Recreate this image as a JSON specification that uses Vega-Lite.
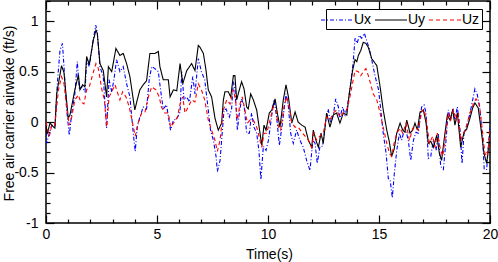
{
  "$schema": "https://vega.github.io/schema/vega-lite/v6.json",
  "width": 444,
  "height": 222,
  "autosize": "none",
  "padding": {"left": 46, "top": 1, "right": 8, "bottom": 39},
  "config": {
    "font": "Liberation Sans",
    "view": {"stroke": "black", "strokeWidth": 1.5},
    "axis": {"domain": false, "grid": false, "tickColor": "black", "tickWidth": 1.2, "labelColor": "black", "titleColor": "black", "labelFontSize": 14, "titleFontSize": 14, "titleFontWeight": "normal", "labelFont": "Liberation Sans", "titleFont": "Liberation Sans"}
  },
  "data": {"values": [
    {"s":"Ux","t":0,"v":-0.1},{"s":"Ux","t":0.03,"v":-0.21},{"s":"Ux","t":0.15,"v":-0.11},{"s":"Ux","t":0.26,"v":-0.03},{"s":"Ux","t":0.4,"v":-0.06},{"s":"Ux","t":0.51,"v":0.38},{"s":"Ux","t":0.63,"v":0.71},{"s":"Ux","t":0.74,"v":0.78},{"s":"Ux","t":0.81,"v":0.55},{"s":"Ux","t":0.93,"v":0.12},{"s":"Ux","t":1.05,"v":-0.13},{"s":"Ux","t":1.16,"v":0.09},{"s":"Ux","t":1.3,"v":0.28},{"s":"Ux","t":1.41,"v":0.6},{"s":"Ux","t":1.5,"v":0.32},{"s":"Ux","t":1.62,"v":0.35},{"s":"Ux","t":1.76,"v":0.3},{"s":"Ux","t":1.83,"v":0.62},{"s":"Ux","t":1.95,"v":0.55},{"s":"Ux","t":2.1,"v":0.78},{"s":"Ux","t":2.24,"v":0.96},{"s":"Ux","t":2.31,"v":0.89},{"s":"Ux","t":2.43,"v":0.55},{"s":"Ux","t":2.58,"v":0.45},{"s":"Ux","t":2.73,"v":-0.06},{"s":"Ux","t":2.84,"v":0.42},{"s":"Ux","t":2.96,"v":0.3},{"s":"Ux","t":3.06,"v":0.42},{"s":"Ux","t":3.18,"v":0.62},{"s":"Ux","t":3.33,"v":0.5},{"s":"Ux","t":3.48,"v":0.55},{"s":"Ux","t":3.63,"v":0.38},{"s":"Ux","t":3.78,"v":0.25},{"s":"Ux","t":3.93,"v":-0.11},{"s":"Ux","t":4.02,"v":-0.29},{"s":"Ux","t":4.11,"v":-0.05},{"s":"Ux","t":4.23,"v":0.05},{"s":"Ux","t":4.38,"v":0.15},{"s":"Ux","t":4.53,"v":0.13},{"s":"Ux","t":4.65,"v":0.42},{"s":"Ux","t":4.76,"v":0.55},{"s":"Ux","t":4.91,"v":0.53},{"s":"Ux","t":5.06,"v":0.5},{"s":"Ux","t":5.16,"v":0.32},{"s":"Ux","t":5.28,"v":0.13},{"s":"Ux","t":5.43,"v":0.17},{"s":"Ux","t":5.61,"v":-0.08},{"s":"Ux","t":5.74,"v":0.02},{"s":"Ux","t":5.89,"v":0.03},{"s":"Ux","t":6.04,"v":0.1},{"s":"Ux","t":6.11,"v":0.5},{"s":"Ux","t":6.22,"v":0.22},{"s":"Ux","t":6.34,"v":0.25},{"s":"Ux","t":6.46,"v":0.2},{"s":"Ux","t":6.61,"v":0.45},{"s":"Ux","t":6.71,"v":0.28},{"s":"Ux","t":6.86,"v":0.63},{"s":"Ux","t":7.0,"v":0.5},{"s":"Ux","t":7.15,"v":0.42},{"s":"Ux","t":7.31,"v":0.12},{"s":"Ux","t":7.41,"v":-0.08},{"s":"Ux","t":7.54,"v":-0.18},{"s":"Ux","t":7.66,"v":-0.34},{"s":"Ux","t":7.72,"v":-0.49},{"s":"Ux","t":7.84,"v":-0.38},{"s":"Ux","t":7.91,"v":-0.18},{"s":"Ux","t":8.02,"v":0.12},{"s":"Ux","t":8.11,"v":0.13},{"s":"Ux","t":8.26,"v":0.05},{"s":"Ux","t":8.36,"v":0.13},{"s":"Ux","t":8.44,"v":0.4},{"s":"Ux","t":8.51,"v":0.33},{"s":"Ux","t":8.62,"v":-0.08},{"s":"Ux","t":8.71,"v":0.09},{"s":"Ux","t":8.81,"v":0.23},{"s":"Ux","t":8.93,"v":0.15},{"s":"Ux","t":9.04,"v":-0.11},{"s":"Ux","t":9.16,"v":-0.11},{"s":"Ux","t":9.26,"v":0.09},{"s":"Ux","t":9.37,"v":-0.05},{"s":"Ux","t":9.49,"v":-0.11},{"s":"Ux","t":9.59,"v":-0.28},{"s":"Ux","t":9.68,"v":-0.57},{"s":"Ux","t":9.79,"v":-0.24},{"s":"Ux","t":9.91,"v":-0.28},{"s":"Ux","t":10.02,"v":-0.18},{"s":"Ux","t":10.17,"v":0.07},{"s":"Ux","t":10.27,"v":0.22},{"s":"Ux","t":10.39,"v":0.05},{"s":"Ux","t":10.51,"v":-0.23},{"s":"Ux","t":10.62,"v":-0.06},{"s":"Ux","t":10.74,"v":0.15},{"s":"Ux","t":10.81,"v":0.28},{"s":"Ux","t":10.92,"v":0.15},{"s":"Ux","t":11.02,"v":-0.11},{"s":"Ux","t":11.14,"v":-0.21},{"s":"Ux","t":11.29,"v":-0.08},{"s":"Ux","t":11.44,"v":-0.18},{"s":"Ux","t":11.59,"v":-0.25},{"s":"Ux","t":11.74,"v":-0.38},{"s":"Ux","t":11.89,"v":-0.48},{"s":"Ux","t":12.02,"v":-0.18},{"s":"Ux","t":12.12,"v":-0.21},{"s":"Ux","t":12.22,"v":-0.41},{"s":"Ux","t":12.34,"v":-0.24},{"s":"Ux","t":12.46,"v":-0.24},{"s":"Ux","t":12.61,"v":0.02},{"s":"Ux","t":12.71,"v":0.13},{"s":"Ux","t":12.82,"v":-0.01},{"s":"Ux","t":12.94,"v":0.07},{"s":"Ux","t":13.05,"v":0.23},{"s":"Ux","t":13.17,"v":0.15},{"s":"Ux","t":13.24,"v":0.04},{"s":"Ux","t":13.36,"v":0.15},{"s":"Ux","t":13.47,"v":0.07},{"s":"Ux","t":13.57,"v":0.15},{"s":"Ux","t":13.69,"v":0.32},{"s":"Ux","t":13.84,"v":0.6},{"s":"Ux","t":13.92,"v":0.83},{"s":"Ux","t":14.02,"v":0.78},{"s":"Ux","t":14.11,"v":0.86},{"s":"Ux","t":14.22,"v":0.83},{"s":"Ux","t":14.34,"v":0.88},{"s":"Ux","t":14.44,"v":0.81},{"s":"Ux","t":14.56,"v":0.73},{"s":"Ux","t":14.67,"v":0.62},{"s":"Ux","t":14.82,"v":0.46},{"s":"Ux","t":14.98,"v":0.32},{"s":"Ux","t":15.08,"v":0.12},{"s":"Ux","t":15.19,"v":-0.11},{"s":"Ux","t":15.32,"v":-0.31},{"s":"Ux","t":15.42,"v":-0.56},{"s":"Ux","t":15.5,"v":-0.57},{"s":"Ux","t":15.6,"v":-0.75},{"s":"Ux","t":15.69,"v":-0.51},{"s":"Ux","t":15.8,"v":-0.28},{"s":"Ux","t":15.92,"v":-0.11},{"s":"Ux","t":16.02,"v":-0.18},{"s":"Ux","t":16.17,"v":-0.05},{"s":"Ux","t":16.32,"v":-0.18},{"s":"Ux","t":16.43,"v":-0.38},{"s":"Ux","t":16.55,"v":-0.18},{"s":"Ux","t":16.67,"v":-0.1},{"s":"Ux","t":16.77,"v":-0.11},{"s":"Ux","t":16.92,"v":0.15},{"s":"Ux","t":17.03,"v":0.17},{"s":"Ux","t":17.12,"v":0.09},{"s":"Ux","t":17.22,"v":-0.36},{"s":"Ux","t":17.33,"v":-0.34},{"s":"Ux","t":17.45,"v":-0.18},{"s":"Ux","t":17.57,"v":-0.28},{"s":"Ux","t":17.67,"v":-0.11},{"s":"Ux","t":17.78,"v":-0.44},{"s":"Ux","t":17.9,"v":-0.47},{"s":"Ux","t":18.02,"v":-0.18},{"s":"Ux","t":18.12,"v":0.12},{"s":"Ux","t":18.23,"v":0.02},{"s":"Ux","t":18.32,"v":0.13},{"s":"Ux","t":18.42,"v":0.03},{"s":"Ux","t":18.53,"v":0.15},{"s":"Ux","t":18.65,"v":-0.08},{"s":"Ux","t":18.74,"v":-0.41},{"s":"Ux","t":18.83,"v":-0.11},{"s":"Ux","t":18.95,"v":-0.05},{"s":"Ux","t":19.1,"v":0.09},{"s":"Ux","t":19.22,"v":0.22},{"s":"Ux","t":19.32,"v":0.33},{"s":"Ux","t":19.43,"v":0.27},{"s":"Ux","t":19.55,"v":0.12},{"s":"Ux","t":19.67,"v":-0.18},{"s":"Ux","t":19.74,"v":-0.47},{"s":"Ux","t":19.85,"v":-0.47},{"s":"Ux","t":19.97,"v":-0.11},{"s":"Ux","t":20,"v":-0.05},
    {"s":"Uy","t":0,"v":-0.02},{"s":"Uy","t":0.05,"v":-0.12},{"s":"Uy","t":0.18,"v":-0.01},{"s":"Uy","t":0.3,"v":-0.04},{"s":"Uy","t":0.4,"v":-0.06},{"s":"Uy","t":0.48,"v":0.28},{"s":"Uy","t":0.7,"v":0.56},{"s":"Uy","t":0.81,"v":0.49},{"s":"Uy","t":1.0,"v":0.04},{"s":"Uy","t":1.08,"v":0.07},{"s":"Uy","t":1.3,"v":0.32},{"s":"Uy","t":1.46,"v":0.47},{"s":"Uy","t":1.53,"v":0.32},{"s":"Uy","t":1.65,"v":0.37},{"s":"Uy","t":1.75,"v":0.35},{"s":"Uy","t":1.83,"v":0.65},{"s":"Uy","t":1.95,"v":0.57},{"s":"Uy","t":2.13,"v":0.81},{"s":"Uy","t":2.25,"v":0.91},{"s":"Uy","t":2.31,"v":0.88},{"s":"Uy","t":2.43,"v":0.58},{"s":"Uy","t":2.58,"v":0.51},{"s":"Uy","t":2.73,"v":0.25},{"s":"Uy","t":2.81,"v":0.55},{"s":"Uy","t":2.96,"v":0.5},{"s":"Uy","t":3.15,"v":0.73},{"s":"Uy","t":3.33,"v":0.66},{"s":"Uy","t":3.48,"v":0.68},{"s":"Uy","t":3.63,"v":0.58},{"s":"Uy","t":3.78,"v":0.45},{"s":"Uy","t":4.0,"v":0.12},{"s":"Uy","t":4.11,"v":0.22},{"s":"Uy","t":4.23,"v":0.32},{"s":"Uy","t":4.38,"v":0.37},{"s":"Uy","t":4.53,"v":0.41},{"s":"Uy","t":4.68,"v":0.68},{"s":"Uy","t":4.91,"v":0.68},{"s":"Uy","t":5.06,"v":0.7},{"s":"Uy","t":5.13,"v":0.55},{"s":"Uy","t":5.28,"v":0.42},{"s":"Uy","t":5.51,"v":0.42},{"s":"Uy","t":5.59,"v":0.25},{"s":"Uy","t":5.74,"v":0.32},{"s":"Uy","t":5.89,"v":0.31},{"s":"Uy","t":6.04,"v":0.58},{"s":"Uy","t":6.16,"v":0.38},{"s":"Uy","t":6.34,"v":0.51},{"s":"Uy","t":6.56,"v":0.58},{"s":"Uy","t":6.71,"v":0.51},{"s":"Uy","t":6.86,"v":0.76},{"s":"Uy","t":6.94,"v":0.74},{"s":"Uy","t":7.09,"v":0.68},{"s":"Uy","t":7.21,"v":0.51},{"s":"Uy","t":7.31,"v":0.32},{"s":"Uy","t":7.46,"v":0.25},{"s":"Uy","t":7.61,"v":0.04},{"s":"Uy","t":7.76,"v":-0.08},{"s":"Uy","t":7.91,"v":-0.01},{"s":"Uy","t":7.99,"v":0.22},{"s":"Uy","t":8.06,"v":0.3},{"s":"Uy","t":8.21,"v":0.3},{"s":"Uy","t":8.32,"v":0.25},{"s":"Uy","t":8.44,"v":0.46},{"s":"Uy","t":8.51,"v":0.46},{"s":"Uy","t":8.59,"v":0.22},{"s":"Uy","t":8.66,"v":0.28},{"s":"Uy","t":8.81,"v":0.4},{"s":"Uy","t":8.92,"v":0.33},{"s":"Uy","t":9.04,"v":0.15},{"s":"Uy","t":9.11,"v":0.13},{"s":"Uy","t":9.22,"v":0.28},{"s":"Uy","t":9.34,"v":0.22},{"s":"Uy","t":9.49,"v":0.12},{"s":"Uy","t":9.64,"v":-0.11},{"s":"Uy","t":9.72,"v":-0.23},{"s":"Uy","t":9.82,"v":-0.03},{"s":"Uy","t":9.91,"v":-0.08},{"s":"Uy","t":10.06,"v":0.09},{"s":"Uy","t":10.17,"v":0.12},{"s":"Uy","t":10.32,"v":0.23},{"s":"Uy","t":10.42,"v":0.09},{"s":"Uy","t":10.54,"v":-0.05},{"s":"Uy","t":10.69,"v":0.22},{"s":"Uy","t":10.81,"v":0.37},{"s":"Uy","t":10.92,"v":0.25},{"s":"Uy","t":11.07,"v":-0.01},{"s":"Uy","t":11.22,"v":0.1},{"s":"Uy","t":11.36,"v":0.0},{"s":"Uy","t":11.52,"v":-0.03},{"s":"Uy","t":11.67,"v":-0.05},{"s":"Uy","t":11.82,"v":-0.18},{"s":"Uy","t":11.97,"v":-0.25},{"s":"Uy","t":12.04,"v":-0.08},{"s":"Uy","t":12.16,"v":-0.18},{"s":"Uy","t":12.27,"v":-0.25},{"s":"Uy","t":12.39,"v":-0.11},{"s":"Uy","t":12.49,"v":-0.21},{"s":"Uy","t":12.64,"v":0.09},{"s":"Uy","t":12.79,"v":-0.05},{"s":"Uy","t":12.94,"v":0.07},{"s":"Uy","t":13.09,"v":0.09},{"s":"Uy","t":13.24,"v":-0.01},{"s":"Uy","t":13.39,"v":0.09},{"s":"Uy","t":13.55,"v":0.07},{"s":"Uy","t":13.66,"v":0.28},{"s":"Uy","t":13.81,"v":0.51},{"s":"Uy","t":13.92,"v":0.62},{"s":"Uy","t":14.0,"v":0.6},{"s":"Uy","t":14.07,"v":0.66},{"s":"Uy","t":14.18,"v":0.71},{"s":"Uy","t":14.29,"v":0.79},{"s":"Uy","t":14.41,"v":0.78},{"s":"Uy","t":14.52,"v":0.74},{"s":"Uy","t":14.67,"v":0.63},{"s":"Uy","t":14.9,"v":0.56},{"s":"Uy","t":15.05,"v":0.35},{"s":"Uy","t":15.19,"v":0.12},{"s":"Uy","t":15.35,"v":-0.08},{"s":"Uy","t":15.46,"v":-0.19},{"s":"Uy","t":15.57,"v":-0.34},{"s":"Uy","t":15.68,"v":-0.27},{"s":"Uy","t":15.8,"v":-0.11},{"s":"Uy","t":15.95,"v":-0.01},{"s":"Uy","t":16.07,"v":-0.08},{"s":"Uy","t":16.17,"v":-0.1},{"s":"Uy","t":16.25,"v":0.02},{"s":"Uy","t":16.4,"v":-0.11},{"s":"Uy","t":16.52,"v":-0.08},{"s":"Uy","t":16.62,"v":-0.01},{"s":"Uy","t":16.73,"v":-0.08},{"s":"Uy","t":16.85,"v":0.1},{"s":"Uy","t":17.0,"v":0.12},{"s":"Uy","t":17.12,"v":-0.01},{"s":"Uy","t":17.22,"v":-0.21},{"s":"Uy","t":17.33,"v":-0.19},{"s":"Uy","t":17.45,"v":-0.25},{"s":"Uy","t":17.6,"v":-0.13},{"s":"Uy","t":17.72,"v":-0.31},{"s":"Uy","t":17.82,"v":-0.38},{"s":"Uy","t":17.93,"v":-0.18},{"s":"Uy","t":18.08,"v":0.07},{"s":"Uy","t":18.2,"v":0.02},{"s":"Uy","t":18.32,"v":0.12},{"s":"Uy","t":18.42,"v":-0.03},{"s":"Uy","t":18.53,"v":0.09},{"s":"Uy","t":18.68,"v":-0.25},{"s":"Uy","t":18.83,"v":-0.1},{"s":"Uy","t":18.95,"v":-0.07},{"s":"Uy","t":19.1,"v":0.04},{"s":"Uy","t":19.22,"v":0.14},{"s":"Uy","t":19.32,"v":0.19},{"s":"Uy","t":19.47,"v":0.14},{"s":"Uy","t":19.62,"v":-0.11},{"s":"Uy","t":19.73,"v":-0.31},{"s":"Uy","t":19.85,"v":-0.41},{"s":"Uy","t":19.97,"v":-0.18},{"s":"Uy","t":20,"v":-0.12},
    {"s":"Uz","t":0,"v":0.0},{"s":"Uz","t":0.15,"v":-0.14},{"s":"Uz","t":0.26,"v":-0.03},{"s":"Uz","t":0.4,"v":-0.03},{"s":"Uz","t":0.56,"v":0.32},{"s":"Uz","t":0.7,"v":0.45},{"s":"Uz","t":0.81,"v":0.38},{"s":"Uz","t":0.93,"v":0.15},{"s":"Uz","t":1.05,"v":-0.03},{"s":"Uz","t":1.16,"v":0.05},{"s":"Uz","t":1.3,"v":0.22},{"s":"Uz","t":1.46,"v":0.27},{"s":"Uz","t":1.56,"v":0.2},{"s":"Uz","t":1.71,"v":0.18},{"s":"Uz","t":1.83,"v":0.32},{"s":"Uz","t":1.95,"v":0.35},{"s":"Uz","t":2.1,"v":0.47},{"s":"Uz","t":2.25,"v":0.58},{"s":"Uz","t":2.36,"v":0.53},{"s":"Uz","t":2.51,"v":0.33},{"s":"Uz","t":2.63,"v":0.22},{"s":"Uz","t":2.73,"v":-0.05},{"s":"Uz","t":2.84,"v":0.25},{"s":"Uz","t":2.96,"v":0.3},{"s":"Uz","t":3.11,"v":0.37},{"s":"Uz","t":3.21,"v":0.3},{"s":"Uz","t":3.33,"v":0.22},{"s":"Uz","t":3.45,"v":0.3},{"s":"Uz","t":3.6,"v":0.25},{"s":"Uz","t":3.75,"v":0.15},{"s":"Uz","t":3.9,"v":-0.01},{"s":"Uz","t":4.02,"v":-0.14},{"s":"Uz","t":4.16,"v":0.0},{"s":"Uz","t":4.31,"v":0.09},{"s":"Uz","t":4.46,"v":0.1},{"s":"Uz","t":4.61,"v":0.25},{"s":"Uz","t":4.76,"v":0.35},{"s":"Uz","t":4.95,"v":0.32},{"s":"Uz","t":5.1,"v":0.25},{"s":"Uz","t":5.2,"v":0.15},{"s":"Uz","t":5.35,"v":0.09},{"s":"Uz","t":5.51,"v":0.09},{"s":"Uz","t":5.61,"v":-0.05},{"s":"Uz","t":5.74,"v":-0.01},{"s":"Uz","t":5.92,"v":0.05},{"s":"Uz","t":6.04,"v":0.18},{"s":"Uz","t":6.16,"v":0.25},{"s":"Uz","t":6.26,"v":0.09},{"s":"Uz","t":6.41,"v":0.15},{"s":"Uz","t":6.56,"v":0.22},{"s":"Uz","t":6.71,"v":0.2},{"s":"Uz","t":6.86,"v":0.38},{"s":"Uz","t":7.0,"v":0.32},{"s":"Uz","t":7.15,"v":0.22},{"s":"Uz","t":7.31,"v":0.02},{"s":"Uz","t":7.46,"v":-0.08},{"s":"Uz","t":7.61,"v":-0.18},{"s":"Uz","t":7.72,"v":-0.29},{"s":"Uz","t":7.84,"v":-0.18},{"s":"Uz","t":7.99,"v":0.12},{"s":"Uz","t":8.14,"v":0.22},{"s":"Uz","t":8.29,"v":0.18},{"s":"Uz","t":8.44,"v":0.32},{"s":"Uz","t":8.54,"v":0.22},{"s":"Uz","t":8.62,"v":0.02},{"s":"Uz","t":8.74,"v":0.18},{"s":"Uz","t":8.84,"v":0.25},{"s":"Uz","t":8.96,"v":0.12},{"s":"Uz","t":9.07,"v":-0.01},{"s":"Uz","t":9.19,"v":0.02},{"s":"Uz","t":9.34,"v":0.02},{"s":"Uz","t":9.49,"v":-0.05},{"s":"Uz","t":9.64,"v":-0.18},{"s":"Uz","t":9.72,"v":-0.25},{"s":"Uz","t":9.82,"v":-0.11},{"s":"Uz","t":9.94,"v":-0.11},{"s":"Uz","t":10.09,"v":0.02},{"s":"Uz","t":10.24,"v":0.15},{"s":"Uz","t":10.36,"v":0.12},{"s":"Uz","t":10.47,"v":-0.05},{"s":"Uz","t":10.57,"v":-0.08},{"s":"Uz","t":10.72,"v":0.15},{"s":"Uz","t":10.84,"v":0.25},{"s":"Uz","t":10.96,"v":0.15},{"s":"Uz","t":11.07,"v":-0.01},{"s":"Uz","t":11.22,"v":-0.05},{"s":"Uz","t":11.36,"v":-0.05},{"s":"Uz","t":11.52,"v":-0.1},{"s":"Uz","t":11.67,"v":-0.14},{"s":"Uz","t":11.82,"v":-0.18},{"s":"Uz","t":11.97,"v":-0.25},{"s":"Uz","t":12.07,"v":-0.11},{"s":"Uz","t":12.19,"v":-0.18},{"s":"Uz","t":12.34,"v":-0.14},{"s":"Uz","t":12.49,"v":-0.11},{"s":"Uz","t":12.64,"v":0.05},{"s":"Uz","t":12.79,"v":0.02},{"s":"Uz","t":12.94,"v":0.09},{"s":"Uz","t":13.09,"v":0.12},{"s":"Uz","t":13.24,"v":0.05},{"s":"Uz","t":13.39,"v":0.09},{"s":"Uz","t":13.55,"v":0.12},{"s":"Uz","t":13.69,"v":0.25},{"s":"Uz","t":13.84,"v":0.42},{"s":"Uz","t":13.92,"v":0.51},{"s":"Uz","t":14.07,"v":0.5},{"s":"Uz","t":14.18,"v":0.46},{"s":"Uz","t":14.29,"v":0.5},{"s":"Uz","t":14.41,"v":0.53},{"s":"Uz","t":14.52,"v":0.46},{"s":"Uz","t":14.62,"v":0.38},{"s":"Uz","t":14.74,"v":0.28},{"s":"Uz","t":14.9,"v":0.22},{"s":"Uz","t":15.05,"v":0.09},{"s":"Uz","t":15.19,"v":-0.05},{"s":"Uz","t":15.35,"v":-0.21},{"s":"Uz","t":15.47,"v":-0.31},{"s":"Uz","t":15.57,"v":-0.34},{"s":"Uz","t":15.68,"v":-0.21},{"s":"Uz","t":15.8,"v":-0.11},{"s":"Uz","t":15.95,"v":-0.06},{"s":"Uz","t":16.07,"v":-0.11},{"s":"Uz","t":16.22,"v":-0.01},{"s":"Uz","t":16.37,"v":-0.18},{"s":"Uz","t":16.52,"v":-0.06},{"s":"Uz","t":16.67,"v":-0.05},{"s":"Uz","t":16.77,"v":-0.08},{"s":"Uz","t":16.92,"v":0.1},{"s":"Uz","t":17.03,"v":0.13},{"s":"Uz","t":17.15,"v":-0.01},{"s":"Uz","t":17.27,"v":-0.21},{"s":"Uz","t":17.42,"v":-0.14},{"s":"Uz","t":17.52,"v":-0.25},{"s":"Uz","t":17.63,"v":-0.11},{"s":"Uz","t":17.75,"v":-0.25},{"s":"Uz","t":17.87,"v":-0.34},{"s":"Uz","t":17.97,"v":-0.18},{"s":"Uz","t":18.12,"v":0.09},{"s":"Uz","t":18.23,"v":0.02},{"s":"Uz","t":18.35,"v":0.12},{"s":"Uz","t":18.47,"v":0.02},{"s":"Uz","t":18.57,"v":0.09},{"s":"Uz","t":18.68,"v":-0.18},{"s":"Uz","t":18.83,"v":-0.1},{"s":"Uz","t":18.95,"v":-0.03},{"s":"Uz","t":19.1,"v":0.09},{"s":"Uz","t":19.25,"v":0.18},{"s":"Uz","t":19.37,"v":0.23},{"s":"Uz","t":19.52,"v":0.18},{"s":"Uz","t":19.67,"v":-0.11},{"s":"Uz","t":19.77,"v":-0.31},{"s":"Uz","t":19.88,"v":-0.34},{"s":"Uz","t":19.97,"v":-0.18},{"s":"Uz","t":20,"v":-0.05}
  ]},
  "layer": [
    {
      "mark": {"type": "line", "strokeWidth": 1.1, "clip": true},
      "encoding": {
        "x": {"field": "t", "type": "quantitative", "scale": {"domain": [0, 20], "nice": false},
          "axis": {"orient": "bottom", "title": "Time(s)", "values": [0,1,2,3,4,5,6,7,8,9,10,11,12,13,14,15,16,17,18,19,20],
            "labelExpr": "datum.value % 5 === 0 ? toString(datum.value) : ''",
            "tickSize": {"condition": {"test": "datum.value % 5 === 0", "value": -8}, "value": -4},
            "labelPadding": 12, "titlePadding": 6, "titleX": 223, "labelFlush": false}},
        "y": {"field": "v", "type": "quantitative", "scale": {"domain": [-1, 1.2], "nice": false, "zero": false},
          "axis": {"orient": "left", "title": "Free air carrier airwake (ft/s)", "values": [-1,-0.9,-0.8,-0.7,-0.6,-0.5,-0.4,-0.3,-0.2,-0.1,0,0.1,0.2,0.3,0.4,0.5,0.6,0.7,0.8,0.9,1,1.1,1.2],
            "labelExpr": "abs(datum.value*2 - round(datum.value*2)) < 0.001 ? toString(datum.value) : ''",
            "tickSize": {"condition": {"test": "abs(datum.value*2 - round(datum.value*2)) < 0.001", "value": -8}, "value": -4},
            "labelPadding": 16, "titleX": -37, "titleY": 112, "titleBaseline": "middle", "titleAlign": "center", "titleAngle": 270, "labelFlush": false}},
        "color": {"field": "s", "type": "nominal", "scale": {"domain": ["Ux", "Uy", "Uz"], "range": ["#0000ff", "#000000", "#ff0000"]},
          "legend": {"orient": "top-right", "direction": "horizontal", "title": null, "offset": 8, "symbolType": "M-2,0H2", "symbolSize": 256, "symbolStrokeWidth": 1.2, "labelFontSize": 14, "labelFont": "Liberation Sans", "labelColor": "black", "labelOffset": 8, "columnPadding": 0, "padding": 2, "strokeColor": "black", "fillColor": "white"}},
        "strokeDash": {"field": "s", "type": "nominal", "scale": {"domain": ["Ux", "Uy", "Uz"], "range": [[4, 2, 1, 2], [1, 0], [4, 3]]},
          "legend": {"orient": "top-right", "direction": "horizontal", "title": null, "offset": 8, "symbolType": "M-2,0H2", "symbolSize": 256, "symbolStrokeWidth": 1.2, "labelFontSize": 14, "labelFont": "Liberation Sans", "labelColor": "black", "labelOffset": 8, "columnPadding": 0, "padding": 2, "strokeColor": "black", "fillColor": "white"}}
      }
    },
    {
      "mark": {"type": "line", "opacity": 0},
      "encoding": {
        "x": {"field": "t", "type": "quantitative", "scale": {"domain": [0, 20], "nice": false},
          "axis": {"orient": "top", "title": null, "labels": false, "values": [0,1,2,3,4,5,6,7,8,9,10,11,12,13,14,15,16,17,18,19,20],
            "tickSize": {"condition": {"test": "datum.value % 5 === 0", "value": -8}, "value": -4}}},
        "y": {"field": "v", "type": "quantitative", "scale": {"domain": [-1, 1.2], "nice": false, "zero": false},
          "axis": {"orient": "right", "title": null, "labels": false, "values": [-1,-0.9,-0.8,-0.7,-0.6,-0.5,-0.4,-0.3,-0.2,-0.1,0,0.1,0.2,0.3,0.4,0.5,0.6,0.7,0.8,0.9,1,1.1,1.2],
            "tickSize": {"condition": {"test": "abs(datum.value*2 - round(datum.value*2)) < 0.001", "value": -8}, "value": -4}}},
        "detail": {"field": "s", "type": "nominal"}
      }
    }
  ],
  "resolve": {"axis": {"x": "independent", "y": "independent"}}
}
